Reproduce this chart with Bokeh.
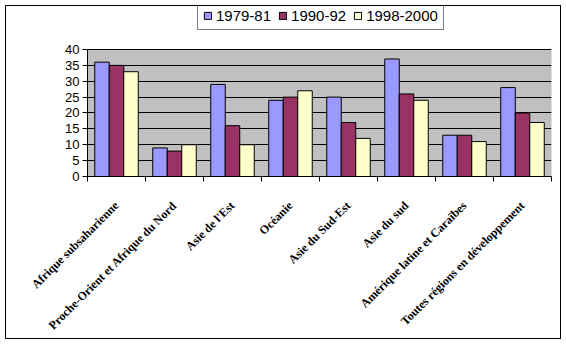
from bokeh.plotting import figure
from bokeh.models import Range1d, FixedTicker, Legend, LegendItem, ColumnDataSource, BoxAnnotation
from bokeh.embed import file_html
from bokeh.resources import INLINE
import math

categories = ["Afrique subsaharienne", "Proche-Orient et Afrique du Nord", "Asie de l'Est",
              "Océanie", "Asie du Sud-Est", "Asie du sud", "Amérique latine et Caraïbes",
              "Toutes régions en développement"]
series_names = ["1979-81", "1990-92", "1998-2000"]
v1979 = [36, 9, 29, 24, 25, 37, 13, 28]
v1990 = [35, 8, 16, 25, 17, 26, 13, 20]
v1998 = [33, 10, 10, 27, 12, 24, 11, 17]
y_ticks = [0, 5, 10, 15, 20, 25, 30, 35, 40]

colors = ["#9999FF", "#993366", "#FFFFCC"]
offsets = [-0.25, 0.0, 0.25]
series = [v1979, v1990, v1998]

n = len(categories)
y_max = y_ticks[-1]
# frame spans up to the figure top; the grey plot area covers 0..40 (130 px of 174 px)
p = figure(width=556, height=334, output_backend="svg", toolbar_location=None,
           x_range=Range1d(0, n), y_range=Range1d(0, y_max * 174 / 130),
           min_border_left=81, min_border_right=11, min_border_top=0, min_border_bottom=160)
p.styles = {"border": "1px solid black", "box-sizing": "border-box", "margin": "5px"}
p.border_fill_color = "white"
p.background_fill_color = "white"
p.outline_line_color = None

box = BoxAnnotation(left=0, right=n, bottom=0, top=y_max, fill_color="#C0C0C0", fill_alpha=1,
                    line_color="#808080", line_width=1, level="underlay")
p.center = [box] + list(p.center)

renderers = []
for vals, c, off in zip(series, colors, offsets):
    src = ColumnDataSource(dict(x=[i + 0.5 + off for i in range(n)], top=vals))
    r = p.vbar(x="x", top="top", bottom=0, width=0.25, source=src,
               fill_color=c, line_color="black", line_width=1)
    renderers.append(r)

# grid
p.xgrid.grid_line_color = None
p.ygrid.grid_line_color = "black"
p.ygrid.grid_line_width = 1
p.yaxis.ticker = FixedTicker(ticks=y_ticks)

# y axis
p.yaxis.bounds = (0, y_max)
p.yaxis.axis_line_color = "black"
p.yaxis.major_tick_line_color = "black"
p.yaxis.major_tick_out = 5
p.yaxis.major_tick_in = 0
p.yaxis.minor_tick_line_color = None
p.yaxis.major_label_text_font = "Liberation Sans"
p.yaxis.major_label_text_font_size = "13px"
p.yaxis.major_label_text_color = "black"
p.yaxis.major_label_standoff = 3

# x axis
centers = [i + 0.5 for i in range(n)]
p.xaxis.ticker = FixedTicker(ticks=centers, minor_ticks=list(range(n + 1)))
p.xaxis.major_label_overrides = {c: lab for c, lab in zip(centers, categories)}
p.xaxis.major_tick_line_color = None
p.xaxis.major_tick_out = 5
p.xaxis.minor_tick_line_color = "black"
p.xaxis.minor_tick_out = 5
p.xaxis.minor_tick_in = 0
p.xaxis.axis_line_color = "black"
p.xaxis.major_label_orientation = math.pi / 4
p.xaxis.major_label_text_font = "Liberation Serif"
p.xaxis.major_label_text_font_style = "bold"
p.xaxis.major_label_text_font_size = "12px"
p.xaxis.major_label_text_color = "black"
p.xaxis.major_label_standoff = 22

legend = Legend(items=[LegendItem(label=s, renderers=[r]) for s, r in zip(series_names, renderers)],
                location=(110, 146), orientation="horizontal")
legend.border_line_color = "black"
legend.border_line_width = 1
legend.background_fill_color = "white"
legend.background_fill_alpha = 1
legend.label_text_font = "Liberation Sans"
legend.label_text_font_size = "15px"
legend.label_text_color = "black"
legend.glyph_width = 9
legend.glyph_height = 9
legend.label_standoff = 4
legend.spacing = 7
legend.padding = 5
legend.margin = 0
legend.label_height = 16
p.add_layout(legend, "center")

open("out.html", "w").write(file_html(p, INLINE))
